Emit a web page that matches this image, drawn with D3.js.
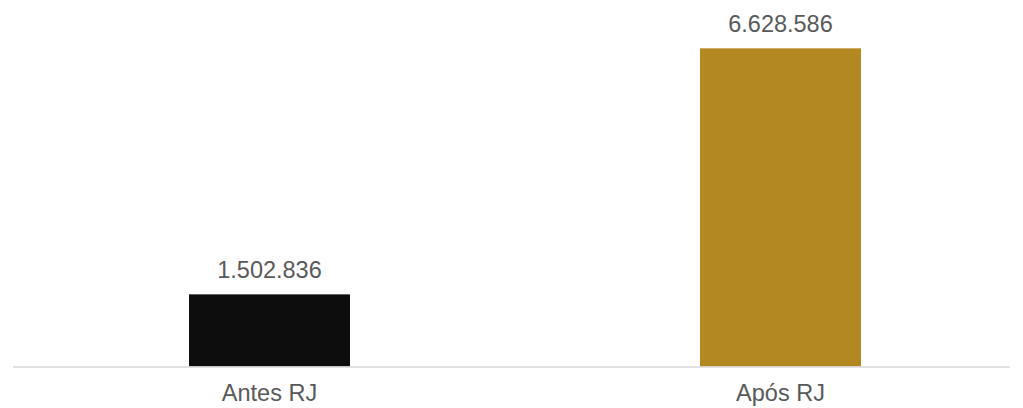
<!DOCTYPE html>
<html>
<head>
<meta charset="utf-8">
<script src="https://cdn.jsdelivr.net/npm/d3@7"></script>
<style>
  body { margin: 0; background: #fff; }
  text { font-family: "Liberation Sans", Arial, sans-serif; fill: #595959; }
</style>
</head>
<body>
<svg id="chart" width="1023" height="408"></svg>
<script>
const categories = ['Antes RJ', 'Após RJ'];
const values = [1502836, 6628586];
const colors = ['#0d0d0d', '#b38820'];

const width = 1023, height = 408;
const svg = d3.select('#chart');

const x = d3.scaleBand()
    .domain(categories)
    .range([14, 1036])
    .paddingInner(0.685)
    .paddingOuter(0.3425);

const y = d3.scaleLinear()
    .domain([0, 7000000])
    .range([366.5, 30.5]);

const fmt = v => d3.format(',')(v).replace(/,/g, '.');

svg.selectAll('rect.bar')
    .data(values)
    .enter()
    .append('rect')
    .attr('class', 'bar')
    .attr('x', (d, i) => x(categories[i]))
    .attr('y', d => y(d))
    .attr('width', x.bandwidth())
    .attr('height', d => y(0) - y(d))
    .attr('fill', (d, i) => colors[i]);

// baseline
svg.append('line')
    .attr('x1', 13).attr('x2', 1010)
    .attr('y1', y(0) + 0.5).attr('y2', y(0) + 0.5)
    .attr('stroke', '#d9d9d9')
    .attr('stroke-width', 1.5);

// value labels
svg.selectAll('text.value')
    .data(values)
    .enter()
    .append('text')
    .attr('class', 'value')
    .attr('x', (d, i) => x(categories[i]) + x.bandwidth() / 2)
    .attr('y', d => y(d) - 16)
    .attr('text-anchor', 'middle')
    .style('font-size', '23.5px')
    .text(d => fmt(d));

// category labels
svg.selectAll('text.cat')
    .data(categories)
    .enter()
    .append('text')
    .attr('class', 'cat')
    .attr('x', d => x(d) + x.bandwidth() / 2)
    .attr('y', 401)
    .attr('text-anchor', 'middle')
    .style('font-size', '23.5px')
    .text(d => d);
</script>
</body>
</html>
